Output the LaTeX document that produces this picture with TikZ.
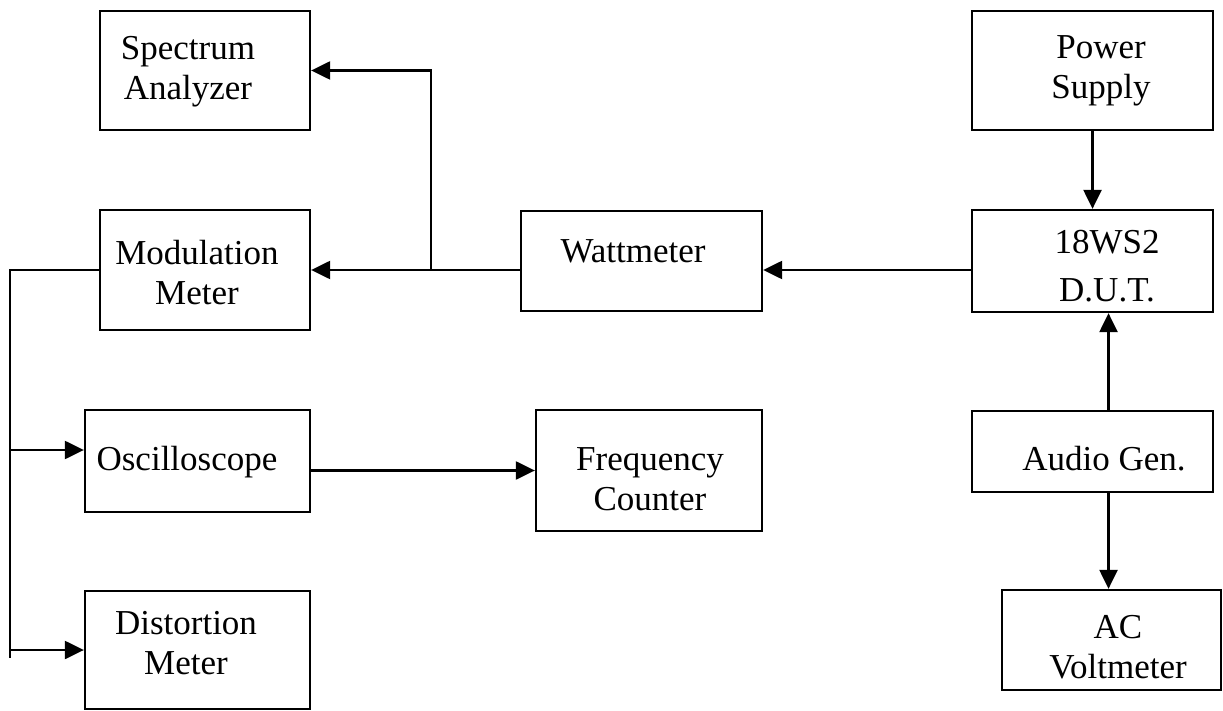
\documentclass[tikz,border=0pt]{standalone}
\usepackage{fontspec}
\setmainfont{Liberation Serif}
\usetikzlibrary{arrows.meta, positioning, calc, backgrounds}
\tikzstyle{box} = [draw, line width=2.3pt, inner sep=0pt]
\tikzstyle{lbl} = [align=center, inner sep=0pt, font=\fontsize{35}{40}\selectfont]
\tikzstyle{arrow} = [line width=2.3pt, -{Triangle[length=19pt, width=18pt]}]

\begin{document}
\begin{tikzpicture}[x=1pt, y=-1pt]
\useasboundingbox (0, 0) rectangle (1223, 711);

% left column
\node [box, minimum width=210, minimum height=119] (spec) at (205, 70.5) {};
\node [box, minimum width=210, minimum height=120] (mod) at (205, 270) {};
\node [box, minimum width=225, minimum height=102] (osc) at (197.5, 461) {};
\node [box, minimum width=225, minimum height=118] (dist) at (197.5, 650) {};

\node [lbl] (specT) at (188, 72) {Spectrum\\Analyzer};
\node [lbl] (modT) at (197, 273) {Modulation\\Meter};
\node [lbl] (oscT) at (187, 462) {Oscilloscope};
\node [lbl] (distT) at (186, 643) {Distortion\\Meter};

% middle
\node [box, minimum width=241, minimum height=100] (watt) at (641.5, 261) {};
\node [box, minimum width=226, minimum height=121] (freq) at (649, 470.5) {};

\node [lbl] (wattT) at (633, 251.5) {Wattmeter};
\node [lbl] (freqT) at (650, 479) {Frequency\\Counter};

% right column
\node [box, minimum width=241, minimum height=119] (power) at (1092.5, 70.5) {};
\node [box, minimum width=241, minimum height=102] (dut) at (1092.5, 261) {};
\node [box, minimum width=241, minimum height=81] (audio) at (1092.5, 451.5) {};
\node [box, minimum width=219, minimum height=100] (acv) at (1111.5, 640) {};

\node [lbl] (powerT) at (1101, 70.5) {Power\\Supply};
\node [lbl, font=\fontsize{35}{48}\selectfont] (dutT) at (1107, 266.5) {18WS2\\D.U.T.};
\node [lbl] (audioT) at (1104, 458.5) {Audio Gen.};
\node [lbl] (acvT) at (1118, 647) {AC\\Voltmeter};

% connections
\coordinate (split) at (431, 270);
\coordinate (busTop) at (10, 270);
\coordinate (tapOsc) at (10, 450);
\coordinate (tapDist) at (10, 650);
\coordinate (busEnd) at (10, 658);

\draw [arrow] (dut.west |- mod.east) -- (watt.east |- mod.east);
\draw [arrow] (watt.west |- mod.east) -- (mod.east);
\draw [arrow] (split) -- (split |- spec.east) -- (spec.east);
\draw [arrow] (power.south) -- (dut.north);
\draw [arrow] ([xshift=16]audio.north) -- ([xshift=16]dut.south);
\draw [arrow] ([xshift=16]audio.south) -- ([xshift=16]audio.south |- acv.north);
\draw [line width=2.3pt] (mod.west) -- (busTop) -- (busEnd);
\draw [arrow] (tapOsc) -- (tapOsc -| osc.west);
\draw [arrow] (tapDist) -- (tapDist -| dist.west);
\draw [arrow] (osc.east |- freq.west) -- (freq.west);

\begin{scope}[on background layer]
\fill [white] (0, 0) rectangle (1223, 711);
\end{scope}

\end{tikzpicture}
\end{document}
